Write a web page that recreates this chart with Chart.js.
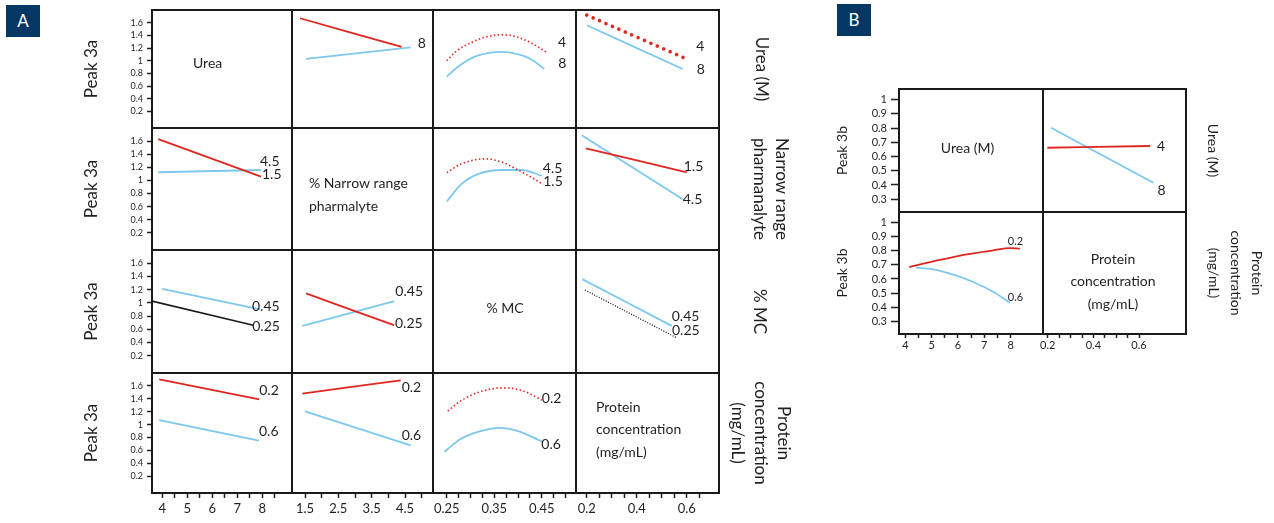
<!DOCTYPE html>
<html><head><meta charset="utf-8">
<script src="https://cdn.jsdelivr.net/npm/chart.js@4.4.0/dist/chart.umd.min.js"></script>
<style>
html,body{margin:0;padding:0;background:#fff;}
body{width:1274px;height:523px;position:relative;overflow:hidden;font-family:Lato,sans-serif;}
canvas{position:absolute;top:0;}
#cA{left:0;} #cB{left:800px;}
.tag{position:absolute;background:#053764;color:#fff;font:17px Lato,sans-serif;width:34px;height:32px;line-height:32px;text-align:center;}
</style></head><body>
<div class="tag" style="left:6px;top:5px">A</div>
<div class="tag" style="left:837px;top:4px">B</div>
<canvas id="cA" width="800" height="523"></canvas>
<canvas id="cB" width="474" height="523"></canvas>
<script>
// ================= DATA =================
// Panel A tick values / labels
const A_yTicks = [0.2, 0.4, 0.6, 0.8, 1, 1.2, 1.4, 1.6];
const A_ureaTicks = [4, 4.5, 5, 5.5, 6, 6.5, 7, 7.5, 8, 8.5];
const A_ureaLabels = [4, 5, 6, 7, 8];
const A_pharmTicks = [1.5, 2, 2.5, 3, 3.5, 4, 4.5, 5];
const A_pharmLabels = [1.5, 2.5, 3.5, 4.5];
const A_mcTicks = [0.25, 0.275, 0.3, 0.325, 0.35, 0.375, 0.4, 0.425, 0.45, 0.475, 0.5];
const A_mcLabels = [0.25, 0.35, 0.45];
const A_protTicks = [0.2, 0.25, 0.3, 0.35, 0.4, 0.45, 0.5, 0.55, 0.6, 0.65];
const A_protLabels = [0.2, 0.4, 0.6];
// Panel B tick values / labels
const B_yTicks = [0.3, 0.4, 0.5, 0.6, 0.7, 0.8, 0.9, 1];
const B_ureaTicks = [4, 4.5, 5, 5.5, 6, 6.5, 7, 7.5, 8];
const B_ureaLabels = [4, 5, 6, 7, 8];
const B_protTicks = [0.2, 0.25, 0.3, 0.35, 0.4, 0.45, 0.5, 0.55, 0.6];
const B_protLabels = [0.2, 0.4, 0.6];

// factor level names (line labels)
const ureaLevels = ['4', '8'];
const pharmLevels = ['1.5', '4.5'];
const mcLevels = ['0.25', '0.45'];
const protLevels = ['0.2', '0.6'];

// Panel A, row 1 (Urea 4 / 8)
const A12_redX = [1.35, 4.40];            const A12_redY = [1.67, 1.22];
const A12_blueX = [1.53, 4.67];           const A12_blueY = [1.03, 1.21];
const A13_redX = [0.25, 0.27, 0.30, 0.33, 0.365, 0.40, 0.435, 0.463];
const A13_redY = [1.00, 1.15, 1.28, 1.37, 1.41, 1.37, 1.25, 1.12];
const A13_blueX = [0.25, 0.28, 0.315, 0.365, 0.41, 0.435, 0.455];
const A13_blueY = [0.75, 0.94, 1.08, 1.14, 1.08, 0.99, 0.87];
const A14_redX = [0.2, 0.61];             const A14_redY = [1.72, 1.01];
const A14_blueX = [0.2, 0.584];           const A14_blueY = [1.56, 0.87];
// Panel A, row 2 (pharmalyte 1.5 / 4.5)
const A21_redX = [3.84, 7.95];            const A21_redY = [1.63, 1.06];
const A21_blueX = [3.84, 7.95];           const A21_blueY = [1.125, 1.16];
const A23_redX = [0.25, 0.28, 0.33, 0.366, 0.40, 0.429, 0.453];
const A23_redY = [1.12, 1.25, 1.33, 1.28, 1.16, 1.045, 0.94];
const A23_blueX = [0.25, 0.28, 0.317, 0.366, 0.408, 0.45];
const A23_blueY = [0.68, 0.94, 1.10, 1.16, 1.16, 1.07];
const A24_redX = [0.196, 0.60];           const A24_redY = [1.49, 1.125];
const A24_blueX = [0.18, 0.584];          const A24_blueY = [1.69, 0.713];
// Panel A, row 3 (% MC 0.25 / 0.45)
const A31_blackX = [3.59, 7.64];          const A31_blackY = [1.027, 0.663];
const A31_blueX = [4.0, 7.91];            const A31_blueY = [1.213, 0.901];
const A32_redX = [1.53, 4.17];            const A32_redY = [1.144, 0.663];
const A32_blueX = [1.42, 4.18];           const A32_blueY = [0.652, 1.027];
const A34_blackX = [0.193, 0.557];        const A34_blackY = [1.194, 0.477];
const A34_blueX = [0.182, 0.54];          const A34_blueY = [1.36, 0.652];
// Panel A, row 4 (protein 0.2 / 0.6)
const A41_redX = [3.88, 7.88];            const A41_redY = [1.70, 1.39];
const A41_blueX = [3.88, 7.87];           const A41_blueY = [1.07, 0.752];
const A42_redX = [1.42, 4.37];            const A42_redY = [1.48, 1.687];
const A42_blueX = [1.5, 4.67];            const A42_blueY = [1.206, 0.679];
const A43_redX = [0.252, 0.28, 0.317, 0.366, 0.408, 0.45];
const A43_redY = [1.21, 1.37, 1.50, 1.57, 1.53, 1.38];
const A43_blueX = [0.245, 0.28, 0.317, 0.359, 0.40, 0.451];
const A43_blueY = [0.58, 0.78, 0.89, 0.95, 0.90, 0.735];
// Panel B
const B12_redX = [0.198, 0.648];          const B12_redY = [0.662, 0.674];
const B12_blueX = [0.214, 0.663];         const B12_blueY = [0.803, 0.416];
const B21_redX = [4.15, 5.06, 6.33, 7.34, 7.97, 8.35];
const B21_redY = [0.685, 0.725, 0.775, 0.803, 0.819, 0.815];
const B21_blueX = [4.41, 5.06, 5.82, 6.58, 7.34, 7.97];
const B21_blueY = [0.681, 0.669, 0.631, 0.579, 0.509, 0.431];

// ================= STYLE / LAYOUT =================
const FONT = 'Lato, "Open Sans", sans-serif';
const TXT = '#231f20';
const RED = '#e0261f', BLUE = '#7cc8ee', BLACK = '#1a1a1a';
const S_RED = {color: RED, width: 1.8, dash: []};
const S_BLUE = {color: BLUE, width: 1.8, dash: []};
const S_BLACK = {color: BLACK, width: 1.6, dash: []};
const S_REDDOT = {color: RED, width: 1.6, dash: [1.5, 2.4]};
const S_REDBIG = {color: RED, width: 3.6, dash: [0.01, 7], cap: 'round'};
const S_BLACKDOT = {color: BLACK, width: 1.3, dash: [1, 1.6]};

function line(xs, ys, xId, yId, st, label) {
  return {
    data: xs.map((x, i) => ({x: x, y: ys[i]})),
    xAxisID: xId, yAxisID: yId,
    borderColor: st.color, borderWidth: st.width, borderDash: st.dash,
    borderCapStyle: st.cap || 'butt',
    pointRadius: 0, pointHoverRadius: 0, fill: false,
    cubicInterpolationMode: 'monotone',
    endLabel: label
  };
}
function lbl(text, dx, dy, size) { return {text: text, dx: dx, dy: dy, size: size}; }

function leftAxis(weight, sw, min, max, ticks, c) {
  return {
    type: 'linear', axis: 'y', position: 'left', stack: 'L', stackWeight: sw, weight: weight,
    min: min, max: max, bounds: 'data',
    afterBuildTicks: s => { s.ticks = ticks.map(v => ({value: v})); },
    ticks: {autoSkip: false, font: {family: FONT, size: c.tickSize}, color: TXT, padding: c.tickPad,
      callback: v => String(v)},
    grid: {drawOnChartArea: false, drawTicks: true, tickLength: c.tickLen, tickColor: TXT, tickWidth: 1.5},
    border: {display: false},
    title: {display: true, text: c.title, color: TXT,
      font: {family: FONT, size: c.titleSize, lineHeight: 1.2}, padding: {top: c.titlePad, bottom: 0}},
    afterFit: s => { s.width = c.width; }
  };
}
function rightAxis(weight, sw, text, size, lh, pad, width) {
  return {
    type: 'linear', axis: 'y', position: 'right', stack: 'R', stackWeight: sw, weight: weight,
    min: 0, max: 1,
    ticks: {display: false}, grid: {display: false, drawTicks: false}, border: {display: false},
    title: {display: true, text: text, color: TXT,
      font: {family: FONT, size: size, lineHeight: lh}, padding: {top: pad, bottom: 0}},
    afterFit: s => { s.width = width; }
  };
}
function bottomAxis(weight, sw, min, max, ticks, labels, c) {
  return {
    type: 'linear', axis: 'x', position: 'bottom', stack: 'B', stackWeight: sw, weight: weight,
    min: min, max: max, bounds: 'data',
    afterBuildTicks: s => { s.ticks = ticks.map(v => ({value: v})); },
    ticks: {autoSkip: false, maxRotation: 0, minRotation: 0,
      font: {family: FONT, size: c.tickSize}, color: TXT, padding: c.tickPad,
      callback: v => { const l = labels.find(t => Math.abs(t - v) < 1e-9); return l === undefined ? '' : String(l); }},
    grid: {drawOnChartArea: false, drawTicks: true, tickLength: c.tickLen, tickColor: TXT, tickWidth: 1.5},
    border: {display: false},
    afterFit: s => { s.height = c.height; }
  };
}

const gridPlugin = {
  id: 'cellGrid',
  afterDatasetsDraw(chart) {
    const ctx = chart.ctx, a = chart.chartArea;
    ctx.save(); ctx.strokeStyle = '#1a1a1a'; ctx.lineWidth = 2;
    ctx.beginPath();
    Object.values(chart.scales).forEach(s => {
      if (s.options.position === 'bottom') {
        [s.left, s.right].forEach(x => { ctx.moveTo(x, a.top); ctx.lineTo(x, a.bottom); });
      }
      if (s.options.position === 'left') {
        [s.top, s.bottom].forEach(y => { ctx.moveTo(a.left - 1, y); ctx.lineTo(a.right + 1, y); });
      }
    });
    ctx.stroke(); ctx.restore();
  }
};
const endLabelPlugin = {
  id: 'endLabels',
  afterDatasetsDraw(chart) {
    const ctx = chart.ctx;
    ctx.save(); ctx.fillStyle = TXT; ctx.textBaseline = 'middle'; ctx.textAlign = 'left';
    chart.data.datasets.forEach((ds, i) => {
      if (!ds.endLabel) return;
      const pts = chart.getDatasetMeta(i).data; const p = pts[pts.length - 1];
      ctx.font = ds.endLabel.size + 'px ' + FONT;
      ctx.fillText(ds.endLabel.text, p.x + ds.endLabel.dx, p.y + ds.endLabel.dy);
    });
    ctx.restore();
  }
};
function cellTextPlugin(items) {
  return {
    id: 'cellText',
    afterDraw(chart) {
      const ctx = chart.ctx;
      ctx.save(); ctx.fillStyle = TXT; ctx.textBaseline = 'middle';
      items.forEach(it => {
        const xs = chart.scales[it.x], ys = chart.scales[it.y];
        ctx.font = it.size + 'px ' + FONT; ctx.textAlign = it.align;
        it.lines.forEach((ln, k) => ctx.fillText(ln, xs.left + it.dx, ys.top + it.dy + k * (it.lh || 0)));
      });
      ctx.restore();
    }
  };
}
const baseOptions = (padTop, scales, cellItems) => ({
  responsive: false, animation: false,
  layout: {padding: {top: padTop, left: 0, right: 0, bottom: 0}},
  plugins: {legend: {display: false}, tooltip: {enabled: false}},
  events: [],
  scales: scales
});

// ================= PANEL A =================
const A_rowW = [118, 122, 123, 120];
const A_colW = [140, 141, 143, 143];
const A_yMin = -0.06, A_yMax = 1.8;
const A_left = {tickSize: 9, tickPad: 4, tickLen: 5, title: 'Peak 3a', titleSize: 17, titlePad: 81, width: 152};
const A_bot = {tickSize: 13, tickPad: 3, tickLen: 5, height: 30};
const A_scales = {
  yA1: leftAxis(4, A_rowW[0], A_yMin, A_yMax, A_yTicks, A_left),
  yA2: leftAxis(3, A_rowW[1], A_yMin, A_yMax, A_yTicks, A_left),
  yA3: leftAxis(2, A_rowW[2], A_yMin, A_yMax, A_yTicks, A_left),
  yA4: leftAxis(1, A_rowW[3], A_yMin, A_yMax, A_yTicks, A_left),
  rA1: rightAxis(1, A_rowW[0], 'Urea (M)', 17, 1.3, 27, 81),
  rA2: rightAxis(2, A_rowW[1], ['Narrow range', 'pharmanalyte'], 17, 1.3, 7, 81),
  rA3: rightAxis(3, A_rowW[2], '% MC', 17, 1.3, 29, 81),
  rA4: rightAxis(4, A_rowW[3], ['Protein', 'concentration', '(mg/mL)'], 17, 1.35, 5, 81),
  xA1: bottomAxis(1, A_colW[0], 3.59, 9.19, A_ureaTicks, A_ureaLabels, A_bot),
  xA2: bottomAxis(2, A_colW[1], 1.11, 5.34, A_pharmTicks, A_pharmLabels, A_bot),
  xA3: bottomAxis(3, A_colW[2], 0.221, 0.522, A_mcTicks, A_mcLabels, A_bot),
  xA4: bottomAxis(4, A_colW[3], 0.157, 0.729, A_protTicks, A_protLabels, A_bot)
};
const A_datasets = [
  line(A12_redX, A12_redY, 'xA2', 'yA1', S_RED),
  line(A12_blueX, A12_blueY, 'xA2', 'yA1', S_BLUE, lbl(ureaLevels[1], 7, -4, 14)),
  line(A13_redX, A13_redY, 'xA3', 'yA1', S_REDDOT, lbl(ureaLevels[0], 10, -11, 14)),
  line(A13_blueX, A13_blueY, 'xA3', 'yA1', S_BLUE, lbl(ureaLevels[1], 14, -6, 14)),
  line(A14_blueX, A14_blueY, 'xA4', 'yA1', S_BLUE, lbl(ureaLevels[1], 14, 0, 14)),
  line(A14_redX, A14_redY, 'xA4', 'yA1', S_REDBIG, lbl(ureaLevels[0], 7, -14, 14)),

  line(A21_redX, A21_redY, 'xA1', 'yA2', S_RED, lbl(pharmLevels[0], 1, -2, 14)),
  line(A21_blueX, A21_blueY, 'xA1', 'yA2', S_BLUE, lbl(pharmLevels[1], -1, -8, 14)),
  line(A23_redX, A23_redY, 'xA3', 'yA2', S_REDDOT, lbl(pharmLevels[0], 0, -3, 14)),
  line(A23_blueX, A23_blueY, 'xA3', 'yA2', S_BLUE, lbl(pharmLevels[1], 1, -7, 14)),
  line(A24_redX, A24_redY, 'xA4', 'yA2', S_RED, lbl(pharmLevels[0], -3, -6, 14)),
  line(A24_blueX, A24_blueY, 'xA4', 'yA2', S_BLUE, lbl(pharmLevels[1], 0, 0, 14)),

  line(A31_blackX, A31_blackY, 'xA1', 'yA3', S_BLACK, lbl(mcLevels[0], -1, 1, 14)),
  line(A31_blueX, A31_blueY, 'xA1', 'yA3', S_BLUE, lbl(mcLevels[1], -8, -3, 14)),
  line(A32_redX, A32_redY, 'xA2', 'yA3', S_RED, lbl(mcLevels[0], 1, -2, 14)),
  line(A32_blueX, A32_blueY, 'xA2', 'yA3', S_BLUE, lbl(mcLevels[1], 1, -10, 14)),
  line(A34_blackX, A34_blackY, 'xA4', 'yA3', S_BLACKDOT, lbl(mcLevels[0], -4, -7, 14)),
  line(A34_blueX, A34_blueY, 'xA4', 'yA3', S_BLUE, lbl(mcLevels[1], 0, -9, 14)),

  line(A41_redX, A41_redY, 'xA1', 'yA4', S_RED, lbl(protLevels[0], 0, -9, 14)),
  line(A41_blueX, A41_blueY, 'xA1', 'yA4', S_BLUE, lbl(protLevels[1], 0, -9, 14)),
  line(A42_redX, A42_redY, 'xA2', 'yA4', S_RED, lbl(protLevels[0], 1, 7, 14)),
  line(A42_blueX, A42_blueY, 'xA2', 'yA4', S_BLUE, lbl(protLevels[1], -9, -10, 14)),
  line(A43_redX, A43_redY, 'xA3', 'yA4', S_REDDOT, lbl(protLevels[0], 0, -2, 14)),
  line(A43_blueX, A43_blueY, 'xA3', 'yA4', S_BLUE, lbl(protLevels[1], -1, 3, 14))
];
const A_cellText = [
  {x: 'xA1', y: 'yA1', lines: ['Urea'], align: 'left', dx: 41, dy: 53, size: 14},
  {x: 'xA2', y: 'yA2', lines: ['% Narrow range', 'pharmalyte'], align: 'left', dx: 17, dy: 55, size: 14, lh: 23},
  {x: 'xA3', y: 'yA3', lines: ['% MC'], align: 'center', dx: 72, dy: 58, size: 14},
  {x: 'xA4', y: 'yA4', lines: ['Protein', 'concentration', '(mg/mL)'], align: 'left', dx: 20, dy: 34, size: 14, lh: 22.5}
];
new Chart(document.getElementById('cA'), {
  type: 'line',
  data: {datasets: A_datasets},
  options: baseOptions(10, A_scales),
  plugins: [gridPlugin, endLabelPlugin, cellTextPlugin(A_cellText)]
});

// ================= PANEL B =================
const B_rowW = [123, 122];
const B_colW = [144, 143];
const B_yMin = 0.21, B_yMax = 1.075;
const B_left = {tickSize: 11, tickPad: 4, tickLen: 8, title: 'Peak 3b', titleSize: 14, titlePad: 33.6, width: 99};
const B_bot = {tickSize: 11, tickPad: 1, tickLen: 4, height: 189};
const B_scales = {
  yB1: leftAxis(2, B_rowW[0], B_yMin, B_yMax, B_yTicks, B_left),
  yB2: leftAxis(1, B_rowW[1], B_yMin, B_yMax, B_yTicks, B_left),
  rB1: rightAxis(1, B_rowW[0], 'Urea (M)', 14, 1.2, 52.6, 88),
  rB2: rightAxis(2, B_rowW[1], ['Protein', 'concentration', '(mg/mL)'], 14, 1.57, 6, 88),
  xB1: bottomAxis(1, B_colW[0], 3.76, 9.23, B_ureaTicks, B_ureaLabels, B_bot),
  xB2: bottomAxis(2, B_colW[1], 0.179, 0.806, B_protTicks, B_protLabels, B_bot)
};
const B_datasets = [
  line(B12_redX, B12_redY, 'xB2', 'yB1', S_RED, lbl(ureaLevels[0], 7, 0, 14)),
  line(B12_blueX, B12_blueY, 'xB2', 'yB1', S_BLUE, lbl(ureaLevels[1], 4, 8, 14)),
  line(B21_redX, B21_redY, 'xB1', 'yB2', S_RED, lbl(protLevels[0], -12, -7, 11)),
  line(B21_blueX, B21_blueY, 'xB1', 'yB2', S_BLUE, lbl(protLevels[1], -2, -5, 11))
];
const B_cellText = [
  {x: 'xB1', y: 'yB1', lines: ['Urea (M)'], align: 'center', dx: 68.5, dy: 59, size: 14},
  {x: 'xB2', y: 'yB2', lines: ['Protein', 'concentration', '(mg/mL)'], align: 'center', dx: 70, dy: 47, size: 14, lh: 22.5}
];
new Chart(document.getElementById('cB'), {
  type: 'line',
  data: {datasets: B_datasets},
  options: baseOptions(89, B_scales),
  plugins: [gridPlugin, endLabelPlugin, cellTextPlugin(B_cellText)]
});
</script></body></html>
